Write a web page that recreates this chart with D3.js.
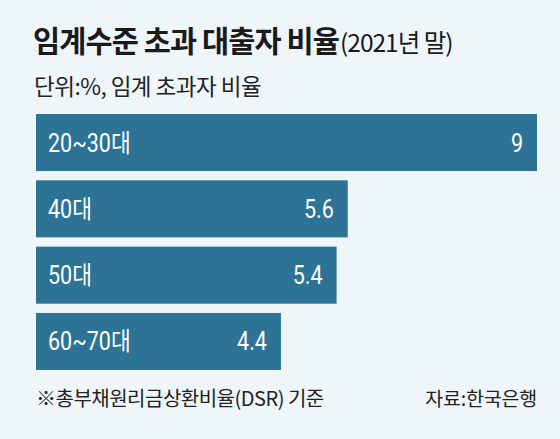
<!DOCTYPE html>
<html>
<head>
<meta charset="utf-8">
<script src="https://cdn.jsdelivr.net/npm/d3@7"></script>
<style>
  html, body { margin: 0; padding: 0; background: #eef6fa; }
  svg { display: block; }
</style>
</head>
<body>
<div id="chart"></div>
<script>
// data
const categories = ['20~30대', '40대', '50대', '60~70대']
const values = [9, 5.6, 5.4, 4.4]
const valueLabels = ['9', '5.6', '5.4', '4.4']

const titleMain = '임계수준 초과 대출자 비율'
const titleSub = '(2021년 말)'
const unitText = '단위:%, 임계 초과자 비율'
const noteText = '※총부채원리금상환비율(DSR) 기준'
const sourceText = '자료:한국은행'

const W = 560, H = 439
const barColor = '#2d7395'
const narrow = 'Roboto, "Noto Sans CJK KR", sans-serif'
const gothic = '"Noto Sans CJK KR", sans-serif'
const squeeze = 0.86 // labels in the bars use a condensed face

const svg = d3.select('#chart').append('svg')
  .attr('width', W)
  .attr('height', H)

svg.append('rect')
  .attr('width', W)
  .attr('height', H)
  .attr('fill', '#eef6fa')

// title
const title = svg.append('text')
  .attr('x', 33)
  .attr('y', 52)
  .attr('fill', '#1a1a1a')
title.append('tspan')
  .attr('font-family', gothic)
  .attr('font-weight', 700)
  .attr('font-size', 29.5)
  .attr('letter-spacing', -0.9)
  .text(titleMain)
title.append('tspan')
  .attr('dx', 1)
  .attr('font-family', gothic)
  .attr('font-size', 24.5)
  .attr('letter-spacing', -1)
  .text(titleSub)

// unit line
svg.append('text')
  .attr('x', 34)
  .attr('y', 95)
  .attr('font-family', gothic)
  .attr('font-size', 22.5)
  .attr('letter-spacing', -0.5)
  .attr('fill', '#222')
  .text(unitText)

// scales
const x = d3.scaleLinear()
  .domain([0, d3.max(values)])
  .range([36, 537])

const y = d3.scaleBand()
  .domain(categories)
  .range([114, 370])
  .paddingInner(0.14)
  .paddingOuter(0)

const rows = svg.selectAll('g.row')
  .data(categories.map((c, i) => ({ cat: c, val: values[i], lab: valueLabels[i] })))
  .join('g')
  .attr('class', 'row')

rows.append('rect')
  .attr('x', x(0))
  .attr('y', d => y(d.cat))
  .attr('width', d => x(d.val) - x(0))
  .attr('height', y.bandwidth())
  .attr('fill', barColor)

// category names inside the bar, left
rows.append('text')
  .attr('transform', d => `translate(${x(0) + 12},${y(d.cat) + y.bandwidth() / 2 + 9}) scale(${squeeze},1)`)
  .attr('font-family', narrow)
  .attr('font-size', 25)
  .attr('fill', '#fff')
  .text(d => d.cat)

// values inside the bar, right
rows.append('text')
  .attr('transform', d => `translate(${x(d.val) - 14},${y(d.cat) + y.bandwidth() / 2 + 9}) scale(${squeeze},1)`)
  .attr('text-anchor', 'end')
  .attr('font-family', narrow)
  .attr('font-size', 25)
  .attr('fill', '#fff')
  .text(d => d.lab)

// footer
svg.append('text')
  .attr('x', 36)
  .attr('y', 406)
  .attr('font-family', gothic)
  .attr('font-size', 20)
  .attr('letter-spacing', -0.5)
  .attr('fill', '#222')
  .text(noteText)

svg.append('text')
  .attr('x', 537)
  .attr('y', 406)
  .attr('text-anchor', 'end')
  .attr('font-family', gothic)
  .attr('font-size', 19.5)
  .attr('letter-spacing', -0.2)
  .attr('fill', '#222')
  .text(sourceText)
</script>
</body>
</html>
